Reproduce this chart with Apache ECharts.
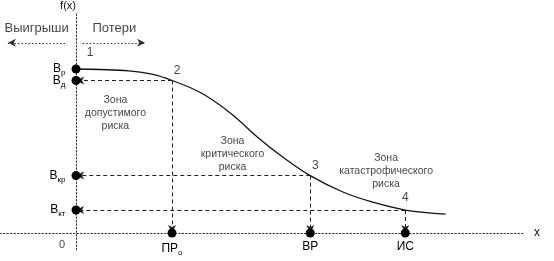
<!DOCTYPE html>
<html><head><meta charset="utf-8">
<script src="https://cdn.jsdelivr.net/npm/echarts@6/dist/echarts.min.js"></script>
<style>html,body{margin:0;padding:0;background:#fff}#c{width:554px;height:261px}</style>
</head><body><div id="c"></div>
<script>
// ---- data ----
const curveX = [0, 0.25, 0.55, 0.8, 1.0, 1.3, 1.6, 1.9, 2.15, 2.44, 2.78, 3.08, 3.43, 3.85];
const curveY = [1.0, 0.997, 0.988, 0.967, 0.93, 0.855, 0.735, 0.58, 0.465, 0.35, 0.25, 0.19, 0.14, 0.115];
const keyX = [0, 1.0, 2.44, 3.43];          // points 1..4 on the curve
const keyY = [1.0, 0.93, 0.35, 0.14];
const keyNums = ['1', '2', '3', '4'];
const levelSubs = ['р', 'д', 'кр', 'кт'];  // В_р, В_д, В_кр, В_кт
const xNames = ['ПР', 'ВР', 'ИС'];
const xSubs = ['о', '', ''];
const zoneX = [0.41, 1.63, 3.23];
const zoneY = [0.73, 0.48, 0.378];
const zoneText = ['Зона\nдопустимого\nриска', 'Зона\nкритического\nриска', 'Зона\nкатастрофического\nриска'];
const topY = 1.16;
const leftArrow = [-0.115, -0.71];
const rightArrow = [0.07, 0.72];
const topLabels = ['Выигрыши', 'Потери'];
const topLabelX = [-0.41, 0.4];
const topLabelY = 1.25;

// ---- styles ----
const FONT = '"Liberation Sans", Arial, sans-serif';
const INK = '#111';
const numOffsets = [[14, -16], [5, -10], [5, -10], [0, -12]];
const rich = {
  b: {fontSize: 12, fontFamily: FONT, color: '#000'},
  s: {fontSize: 8, fontFamily: FONT, color: '#000', padding: [8, 0, 0, 0]}
};

const chart = echarts.init(document.getElementById('c'), null, {renderer: 'canvas'});

const dashed = {type: [4, 3], width: 1, color: '#222'};
const dotted = {type: [1.5, 2], width: 1, color: '#333'};

const markData = [];
for (let i = 1; i < keyX.length; i++) {
  markData.push([{coord: [keyX[i], keyY[i]], symbol: 'none'}, {coord: [0, keyY[i]], symbol: 'arrow'}]);
  markData.push([{coord: [keyX[i], keyY[i]], symbol: 'none'}, {coord: [keyX[i], 0], symbol: 'arrow'}]);
}
const topMarks = [
  [{coord: [leftArrow[0], topY], symbol: 'none'}, {coord: [leftArrow[1], topY], symbol: 'arrow'}],
  [{coord: [rightArrow[0], topY], symbol: 'none'}, {coord: [rightArrow[1], topY], symbol: 'arrow'}]
];

chart.setOption({
  animation: false,
  backgroundColor: '#fff',
  grid: {left: 0, right: 29, top: 12, bottom: 11},
  xAxis: {
    type: 'value', min: -0.792, max: 4.677,
    axisLine: {show: true, onZero: true, lineStyle: dotted},
    axisTick: {show: false}, axisLabel: {show: false}, splitLine: {show: false},
    name: 'x', nameLocation: 'end', nameGap: 9,
    nameTextStyle: {fontSize: 12, fontFamily: FONT, color: INK}
  },
  yAxis: {
    type: 'value', min: -0.1037, max: 1.3476,
    axisLine: {show: true, onZero: true, lineStyle: dotted},
    axisTick: {show: false}, axisLabel: {show: false}, splitLine: {show: false},
    name: 'f(x)', nameLocation: 'end', nameGap: 1,
    nameTextStyle: {fontSize: 11, fontFamily: FONT, color: INK, align: 'center', padding: [0, 16, 0, 0]}
  },
  series: [
    {
      type: 'line', smooth: 0.4, showSymbol: false, silent: true,
      data: curveX.map((x, i) => [x, curveY[i]]),
      lineStyle: {color: INK, width: 1.3},
      markLine: {
        silent: true, symbolSize: [6, 8], label: {show: false},
        lineStyle: dashed, data: markData
      },
      z: 3
    },
    {
      type: 'line', data: [], silent: true,
      markLine: {silent: true, symbolSize: [6, 8], label: {show: false}, lineStyle: dotted, data: topMarks}
    },
    {
      // dots on the f(x) axis with level labels
      type: 'scatter', symbolSize: 9, itemStyle: {color: '#000', opacity: 1}, z: 5, clip: false,
      data: keyY.map(y => [0, y]),
      label: {
        show: true, position: 'left', distance: 6,
        formatter: p => '{b|В}{s|' + levelSubs[p.dataIndex] + '}', rich: rich
      }
    },
    {
      // dots on the x axis
      type: 'scatter', symbolSize: 9, itemStyle: {color: '#000', opacity: 1}, z: 5, clip: false,
      data: keyX.slice(1).map(x => [x, 0]),
      label: {
        show: true, position: 'bottom', distance: 3,
        formatter: p => '{b|' + xNames[p.dataIndex] + '}' + (xSubs[p.dataIndex] ? '{s|' + xSubs[p.dataIndex] + '}' : ''),
        rich: rich
      }
    },
    {
      // point numbers
      type: 'scatter', symbolSize: 0, clip: false, silent: true,
      data: keyX.map((x, i) => [x, keyY[i]]),
      label: {
        show: true, position: 'inside', fontSize: 12, fontFamily: FONT, color: INK,
        formatter: p => keyNums[p.dataIndex]
      },
      labelLayout: p => ({dx: numOffsets[p.dataIndex][0], dy: numOffsets[p.dataIndex][1]})
    },
    {
      // zone texts
      type: 'scatter', symbolSize: 0, clip: false, silent: true,
      data: zoneX.map((x, i) => [x, zoneY[i]]),
      label: {
        show: true, position: 'inside', fontSize: 10.5, lineHeight: 13, fontFamily: FONT, color: INK,
        formatter: p => zoneText[p.dataIndex]
      }
    },
    {
      // top labels
      type: 'scatter', symbolSize: 0, clip: false, silent: true,
      data: topLabelX.map(x => [x, topLabelY]),
      label: {
        show: true, position: 'inside', fontSize: 13, fontFamily: FONT, color: INK,
        formatter: p => topLabels[p.dataIndex]
      }
    },
    {
      // origin "0"
      type: 'scatter', symbolSize: 0, clip: false, silent: true,
      data: [[0, 0]],
      label: {show: true, position: 'inside', fontSize: 11, fontFamily: FONT, color: INK, formatter: '0'},
      labelLayout: {dx: -14, dy: 12}
    }
  ]
});
</script>
</body></html>
